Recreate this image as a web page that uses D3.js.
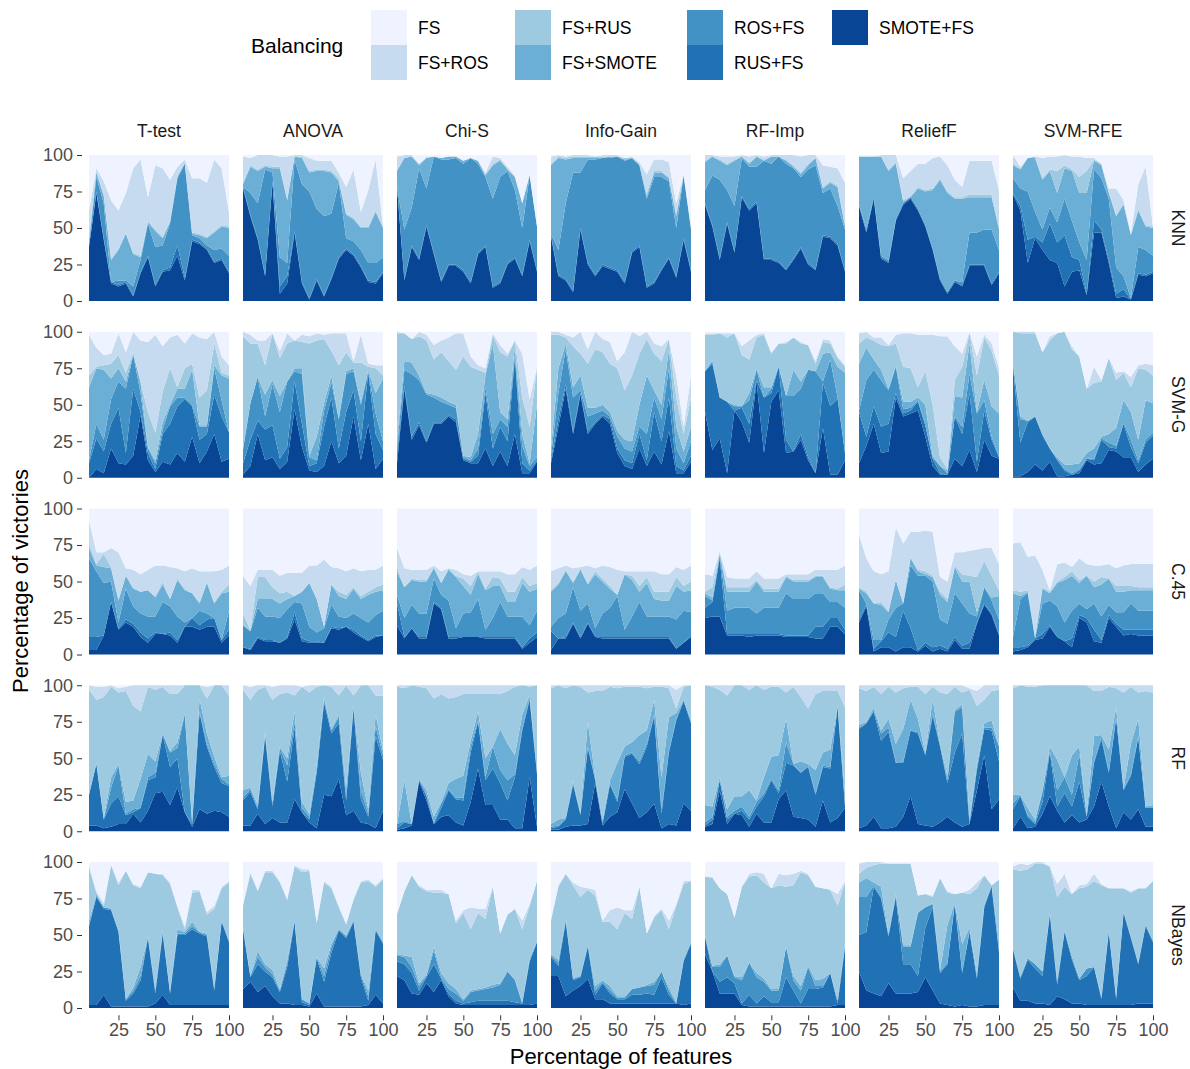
<!DOCTYPE html>
<html>
<head>
<meta charset="utf-8">
<script src="https://cdn.jsdelivr.net/npm/d3@7"></script>
<style>
body { margin: 0; background: #fff; }
text { font-family: "Liberation Sans", Arial, sans-serif; }
</style>
</head>
<body>
<svg id="chart" width="1190" height="1069"></svg>
<script>
// x values (percentage of features)
const pct = [5,10,15,20,25,30,35,40,45,50,55,60,65,70,75,80,85,90,95,100];
const methods = ["T-test","ANOVA","Chi-S","Info-Gain","RF-Imp","ReliefF","SVM-RFE"];
const classifiers = ["KNN","SVM-G","C.45","RF","NBayes"];
const balancing = ["FS","FS+ROS","FS+RUS","FS+SMOTE","ROS+FS","RUS+FS","SMOTE+FS"];
const yTicks = [0,25,50,75,100];
const xTicks = [25,50,75,100];

// every panel: cumulative tops (%) of SMOTE+FS, RUS+FS, ROS+FS, FS+SMOTE, FS+RUS, FS+ROS
// (bottom band first), FS fills what is left up to 100
const knn_ttest = [
  [37,74,42,12,10,12,3,19,30,10,20,21,31,14,41,39,35,26,28,19],
  [37,75,43,13,11,13,4,20,31,11,21,23,38,16,42,40,36,27,29,20],
  [39,85,67,13,14,14,10,28,53,37,38,53,84,94,45,43,38,35,36,31],
  [42,88,72,28,35,46,32,30,54,48,43,54,85,94,46,45,43,47,51,50],
  [43,89,73,29,36,47,33,31,55,49,44,55,86,95,47,46,44,48,52,51],
  [62,91,82,69,62,74,91,97,71,93,91,83,92,97,84,84,81,97,91,61]];
const knn_anova = [
  [77,58,42,17,81,5,12,47,12,1,14,3,15,29,35,31,23,13,12,19],
  [78,59,43,18,82,10,17,48,13,2,15,4,16,30,36,32,24,14,13,20],
  [78,74,67,90,88,30,26,97,80,75,63,58,60,81,43,41,35,26,26,30],
  [80,92,89,92,91,91,69,99,98,88,89,89,88,82,59,56,50,50,61,50],
  [81,93,90,93,92,92,70,99,99,89,90,90,89,84,60,57,51,51,62,51],
  [99,98,100,100,100,99,99,100,100,98,96,96,96,88,78,90,61,76,97,51]];
const knn_chis = [
  [78,14,37,28,51,32,13,24,24,20,12,32,37,9,12,25,29,17,41,20],
  [78,15,38,29,52,33,14,25,25,21,13,33,38,10,13,26,30,18,42,21],
  [78,49,64,91,77,99,97,97,98,94,98,94,85,70,85,89,76,50,86,51],
  [89,98,99,93,98,99,98,99,99,96,98,96,86,93,96,90,85,67,86,51],
  [90,98,99,94,98,99,98,99,99,96,98,96,87,94,97,91,85,67,87,51],
  [99,100,100,94,99,99,98,99,99,96,98,96,88,99,98,92,86,67,87,51]];
const knn_infogain = [
  [44,17,14,6,49,25,17,24,22,20,12,33,37,9,12,21,29,16,42,20],
  [45,18,15,7,50,26,18,25,23,21,13,34,38,10,13,22,30,17,43,21],
  [46,35,67,88,88,97,97,98,98,99,96,98,93,70,85,85,82,50,86,49],
  [93,98,97,98,98,98,98,98,99,99,97,98,93,72,88,88,84,58,86,50],
  [94,99,98,99,99,99,99,99,99,99,98,98,94,74,89,89,85,60,86,50],
  [99,100,99,100,100,100,99,100,100,100,98,99,95,87,97,97,95,67,87,51]];
const knn_rfimp = [
  [66,51,28,53,33,71,62,67,28,28,26,21,28,36,25,21,44,43,38,20],
  [67,52,29,54,34,72,63,68,29,29,27,22,29,37,26,22,45,44,39,21],
  [76,86,83,76,65,98,92,92,96,94,99,94,91,85,90,93,74,77,65,49],
  [95,99,96,93,96,99,94,99,96,99,99,96,92,87,93,98,77,81,78,51],
  [96,99,97,94,97,99,95,99,97,99,99,97,93,88,94,98,78,82,79,52],
  [100,100,99,99,99,100,99,100,99,100,100,100,100,99,100,100,93,92,91,81]];
const knn_relieff = [
  [65,47,70,29,26,55,66,70,62,51,35,14,5,13,10,24,24,24,11,19],
  [66,48,71,30,27,56,67,71,63,52,36,15,6,14,11,25,25,25,12,20],
  [66,50,71,31,28,56,67,71,63,52,36,15,6,14,13,47,47,49,49,35],
  [99,99,99,99,89,94,68,71,77,75,76,83,74,70,70,71,71,71,71,49],
  [99,99,99,99,90,95,69,72,78,76,77,84,75,71,71,73,73,73,73,51],
  [99,99,99,100,100,100,84,89,94,94,98,99,93,83,78,96,96,96,96,76]];
const knn_svmrfe = [
  [73,62,26,43,35,28,26,10,20,21,4,47,47,26,2,3,1,18,17,19],
  [74,65,42,44,40,53,40,45,30,28,5,55,49,28,5,8,1,19,18,20],
  [84,77,75,61,49,64,54,70,55,40,28,90,84,70,23,17,2,37,35,31],
  [93,90,98,98,83,89,74,91,89,74,74,96,93,74,58,66,45,62,51,50],
  [94,91,98,99,84,90,89,93,90,85,89,97,94,75,59,67,46,63,52,51],
  [100,92,98,99,98,99,99,100,99,99,98,98,94,77,77,69,46,80,92,51]];

const svmg_ttest = [
  [0,6,3,20,10,9,15,43,12,4,11,9,17,11,28,10,18,30,11,13],
  [10,27,18,37,48,17,61,45,17,6,30,37,49,54,49,26,30,57,42,31],
  [12,37,26,54,66,61,84,58,20,10,33,49,55,55,50,35,35,75,53,31],
  [62,75,74,68,75,66,85,65,21,12,38,50,61,61,74,36,36,77,70,68],
  [70,76,77,78,84,72,86,66,45,31,59,75,62,75,78,55,60,92,72,70],
  [98,89,84,85,99,86,100,94,93,98,90,96,98,92,99,96,95,100,83,77]];
const svmg_anova = [
  [2,8,30,12,14,6,11,47,21,5,4,8,25,10,15,42,12,37,6,13],
  [10,26,39,33,36,13,21,66,37,8,10,35,55,20,45,60,25,72,30,19],
  [19,51,69,42,64,45,66,73,71,14,12,46,65,40,71,73,50,73,44,25],
  [20,51,69,57,67,56,66,75,75,15,28,51,70,40,73,75,52,74,58,68],
  [97,92,92,77,99,82,92,94,93,92,94,95,87,77,86,79,79,76,75,70],
  [100,98,94,94,99,87,99,94,98,97,99,98,99,99,99,80,98,78,77,77]];
const svmg_chis = [
  [10,61,26,36,24,37,37,42,38,12,10,10,20,8,18,8,30,3,3,11],
  [15,63,28,38,25,38,38,43,40,13,11,15,58,20,35,25,82,10,5,12],
  [20,74,71,67,57,55,52,50,48,14,12,20,62,30,40,35,84,22,8,14],
  [25,80,79,70,58,57,55,52,50,15,14,30,70,92,45,40,90,30,10,50],
  [99,99,95,97,94,81,86,80,74,83,76,74,72,98,86,83,94,55,35,75],
  [100,99,95,100,98,91,94,96,99,99,83,77,75,99,91,85,94,85,54,76]];
const svmg_infogain = [
  [10,35,61,30,57,30,37,42,37,17,8,6,20,8,18,9,32,3,3,11],
  [12,40,64,32,58,32,38,43,40,20,12,10,30,12,45,25,55,8,5,15],
  [15,58,88,55,60,42,44,46,42,28,20,18,35,30,55,40,75,20,10,25],
  [20,75,92,62,70,48,48,50,45,32,26,25,50,70,60,50,88,35,18,35],
  [98,98,96,90,85,78,88,86,78,75,60,70,85,95,85,80,95,55,30,55],
  [100,100,98,96,100,88,100,95,93,80,86,100,97,100,92,90,95,70,35,70]];
const svmg_rfimp = [
  [45,19,27,3,46,38,24,66,17,52,60,17,18,26,12,3,34,2,2,12],
  [73,78,55,52,46,48,37,67,55,58,76,26,18,30,14,3,65,49,54,17],
  [73,80,55,52,49,49,53,74,55,61,76,56,56,61,74,73,66,81,55,17],
  [73,80,55,52,50,49,58,75,62,62,77,56,74,66,74,73,85,86,76,72],
  [98,98,99,96,99,84,81,96,98,85,92,92,96,92,91,78,93,92,82,76],
  [99,99,99,99,99,90,94,98,99,86,92,93,96,93,91,80,95,94,83,77]];
const svmg_relieff = [
  [10,22,37,17,18,55,42,44,46,28,8,2,2,13,8,19,4,26,15,13],
  [45,28,49,35,37,58,44,46,52,36,13,3,2,42,30,58,11,46,26,14],
  [46,67,74,67,60,76,47,48,53,36,14,8,3,42,35,71,44,53,28,15],
  [78,89,81,74,61,77,52,52,55,50,15,8,5,56,55,92,45,67,49,44],
  [92,96,94,91,90,92,76,75,62,73,50,14,6,67,76,99,70,96,87,70],
  [99,100,96,96,91,98,99,99,98,98,98,97,97,90,85,100,83,98,92,75]];
const svmg_svmrfe = [
  [1,1,4,9,5,11,1,1,2,3,12,9,10,19,18,14,14,4,9,13],
  [76,24,38,42,29,20,12,5,2,5,13,12,26,21,20,37,21,10,24,29],
  [78,40,39,42,30,20,13,6,3,6,13,13,27,24,22,38,26,12,26,31],
  [78,42,39,42,30,20,14,9,9,10,17,20,28,30,34,53,45,26,53,51],
  [100,99,99,99,86,94,99,100,88,83,61,65,66,82,67,72,62,75,74,70],
  [100,100,100,100,86,97,99,100,90,83,61,76,67,82,72,73,69,77,78,77]];

const c45_ttest = [
  [3,3,13,36,17,22,19,12,8,14,14,13,8,19,19,17,19,19,8,13],
  [12,12,13,36,18,24,21,15,11,15,14,15,10,19,25,20,24,25,10,17],
  [66,57,49,50,22,45,33,28,26,26,36,33,26,22,21,30,28,24,10,30],
  [73,61,60,59,37,54,45,43,44,39,48,38,51,44,42,35,49,35,42,43],
  [76,62,69,60,38,54,46,43,44,40,50,38,52,45,42,36,50,36,43,48],
  [92,70,70,73,70,59,58,55,58,61,61,60,59,57,59,57,57,57,58,61]];
const c45_anova = [
  [5,3,11,9,9,8,11,24,9,8,8,8,18,17,19,15,12,9,12,13],
  [5,4,12,10,10,8,12,29,11,9,9,8,19,18,19,17,13,10,13,13],
  [20,16,32,26,26,25,31,36,35,19,15,18,34,26,25,28,25,22,27,30],
  [20,16,38,38,38,35,38,40,43,49,38,19,48,40,38,45,38,41,43,44],
  [28,17,53,53,46,42,43,40,43,49,38,19,48,43,41,46,40,43,46,48],
  [54,47,58,58,58,54,56,56,56,61,61,65,60,59,57,59,57,58,58,61]];
const c45_chis = [
  [20,11,18,11,11,35,31,11,11,12,12,12,11,11,11,11,11,4,8,12],
  [35,12,18,12,12,36,32,12,12,12,12,12,12,12,12,12,12,5,11,15],
  [41,25,34,28,28,52,41,37,18,28,29,38,17,25,36,26,26,26,20,30],
  [57,46,51,50,50,59,49,58,53,47,41,55,44,47,47,36,36,49,43,45],
  [60,46,52,51,51,60,49,59,54,52,47,57,45,53,52,43,43,53,47,49],
  [73,59,58,58,58,61,57,59,58,55,54,57,57,57,57,55,55,60,58,61]];
const c45_infogain = [
  [3,11,11,21,11,21,12,11,11,11,11,11,11,11,11,11,11,4,8,12],
  [16,11,12,22,12,22,12,12,12,12,12,12,12,12,12,12,12,4,8,13],
  [19,25,28,46,30,35,18,28,32,40,17,26,36,26,26,26,26,24,30,29],
  [43,48,57,49,58,48,55,50,45,41,55,51,43,49,38,37,37,47,43,44],
  [44,49,58,50,59,49,57,52,47,41,55,54,47,53,43,43,43,53,47,50],
  [57,59,61,59,60,61,59,61,60,58,57,57,57,57,57,55,55,60,58,61]];
const c45_rfimp = [
  [25,26,26,13,13,13,12,13,13,13,13,12,12,12,12,11,11,19,19,14],
  [32,36,66,14,14,14,14,14,14,14,14,13,13,13,13,19,19,25,25,17],
  [40,37,68,30,32,32,32,28,32,32,32,42,38,38,38,42,42,36,36,32],
  [42,39,69,43,43,43,43,50,43,43,43,53,50,50,50,53,53,45,44,44],
  [43,46,70,46,46,46,46,51,45,45,45,54,51,51,51,54,54,46,45,48],
  [55,54,71,53,52,52,52,57,52,52,52,55,55,55,55,58,58,58,58,61]];
const c45_relieff = [
  [22,33,2,5,5,2,5,5,2,6,2,4,2,10,4,4,21,34,27,13],
  [24,34,4,9,15,12,30,18,3,8,5,6,4,12,6,8,22,35,28,14],
  [44,35,10,10,24,32,35,61,54,54,50,24,21,42,35,28,26,46,37,24],
  [45,42,35,34,29,51,35,66,57,55,53,41,36,60,50,50,29,46,39,40],
  [46,43,35,36,30,51,35,67,58,57,54,43,38,61,55,54,53,64,54,44],
  [82,66,57,55,57,87,76,84,84,85,84,53,50,70,70,71,72,73,73,62]];
const c45_svmrfe = [
  [2,3,5,10,11,19,12,9,5,25,22,9,8,25,19,13,14,13,13,13],
  [5,5,6,11,14,20,12,9,11,27,25,17,10,27,21,17,17,17,17,17],
  [12,38,42,11,35,37,33,22,30,35,31,35,26,34,29,29,35,30,30,30],
  [42,40,43,11,45,42,49,51,54,49,54,46,48,52,43,43,44,44,44,44],
  [44,43,44,13,46,43,50,53,57,51,54,50,53,52,47,47,47,46,46,46],
  [76,77,67,68,58,44,62,63,60,66,62,61,61,62,59,61,62,62,62,62]];

const rf_ttest = [
  [4,4,2,3,5,5,12,6,14,26,27,18,30,13,3,15,12,14,13,10],
  [25,46,8,19,24,11,13,16,35,37,66,44,50,13,5,81,58,44,33,31],
  [25,46,8,30,45,12,15,16,37,40,67,54,57,80,5,82,60,46,36,32],
  [25,47,9,37,46,20,21,36,53,48,67,55,61,81,6,91,67,51,37,38],
  [97,90,92,99,95,96,86,82,99,97,99,94,94,100,100,100,91,100,100,93],
  [100,99,99,100,98,99,100,100,100,100,100,100,100,100,100,100,99,100,100,100]];
const rf_anova = [
  [4,4,12,5,9,6,6,22,13,6,2,25,24,36,11,14,6,5,2,14],
  [21,27,15,65,17,55,34,71,13,8,40,88,67,74,21,84,22,10,65,49],
  [23,29,16,66,19,57,45,75,16,10,42,90,69,78,25,85,28,12,72,52],
  [28,30,18,68,20,58,50,82,20,12,45,92,70,80,30,86,40,15,80,55],
  [97,90,97,99,90,94,95,93,99,95,99,100,99,93,100,93,100,100,93,93],
  [100,99,100,100,99,100,100,100,99,100,100,100,100,100,100,100,100,100,100,100]];
const rf_chis = [
  [1,2,4,34,21,5,10,11,6,4,20,43,18,18,8,8,2,2,37,3],
  [2,6,5,35,24,5,16,28,22,21,54,75,35,43,33,21,37,69,90,39],
  [5,7,5,36,25,6,19,29,23,23,58,76,37,58,42,35,39,71,91,40],
  [5,35,5,36,28,10,20,33,36,38,62,82,50,58,70,60,52,80,93,42],
  [99,98,100,99,98,91,94,91,92,94,94,94,94,94,94,96,99,100,99,100],
  [100,100,100,100,100,100,100,100,100,100,100,100,100,100,100,100,100,100,100,100]];
const rf_infogain = [
  [1,1,3,4,4,5,33,4,10,13,29,19,9,13,19,2,5,4,19,14],
  [2,3,8,32,11,57,35,5,32,20,51,53,46,58,79,12,54,76,89,74],
  [3,4,9,33,12,58,36,6,33,22,52,54,48,60,80,15,55,77,90,75],
  [5,8,9,35,12,75,37,8,35,47,58,61,66,69,90,37,78,81,90,76],
  [98,100,98,100,99,95,96,96,99,98,99,99,99,98,99,99,98,84,99,100],
  [100,100,100,100,100,100,100,100,100,100,100,100,100,100,100,100,100,97,100,100]];
const rf_rfimp = [
  [3,5,28,5,12,11,3,12,6,6,22,28,10,9,8,3,21,6,9,16],
  [4,8,35,8,12,14,8,17,24,35,26,47,45,40,44,25,44,43,85,17],
  [6,10,35,10,14,17,10,20,26,36,28,61,46,40,45,26,45,44,86,18],
  [18,17,37,15,24,24,28,21,37,51,52,77,46,48,46,42,54,56,86,25],
  [100,99,97,93,100,100,97,100,97,99,99,95,99,92,84,94,96,96,96,85],
  [100,100,100,100,100,100,100,100,100,100,100,100,100,100,100,100,100,100,100,100]];
const rf_relieff = [
  [2,4,10,2,2,3,10,24,5,4,3,6,10,6,3,5,28,52,15,22],
  [70,74,82,62,68,47,47,69,67,52,79,58,33,54,67,5,42,70,69,48],
  [71,74,83,67,71,47,48,69,68,53,81,59,35,82,85,7,44,71,71,58],
  [73,75,85,69,77,60,70,90,77,54,90,60,38,83,87,8,45,74,76,58],
  [98,96,99,94,99,95,98,99,99,94,99,95,94,99,95,97,86,90,96,97],
  [100,100,100,100,100,100,100,100,100,100,100,100,100,100,100,98,96,100,100,100]];
const rf_svmrfe = [
  [2,10,2,3,12,24,14,6,11,6,8,17,34,17,2,13,8,15,3,3],
  [15,24,10,5,20,54,17,26,17,34,10,47,63,40,77,28,38,64,16,16],
  [19,25,11,6,27,55,28,37,25,53,10,48,65,41,78,29,39,65,16,16],
  [25,25,16,8,28,58,49,37,52,58,12,65,66,56,85,29,60,77,17,18],
  [98,100,99,99,100,100,100,100,100,100,100,96,96,99,98,95,99,95,96,95],
  [100,100,100,100,100,100,100,100,100,100,100,100,100,100,100,100,100,100,100,100]];

const nb_ttest = [
  [2,2,9,1,1,1,1,1,1,3,9,2,2,2,2,2,2,2,2,2],
  [56,76,68,67,52,5,10,19,48,10,51,10,50,50,54,51,49,12,59,45],
  [57,77,69,68,53,6,12,22,49,12,52,11,51,51,56,52,50,13,60,46],
  [60,78,69,68,54,6,14,28,49,13,53,11,54,52,59,52,51,14,60,46],
  [96,79,70,98,84,94,84,82,93,92,91,85,69,54,79,80,64,68,82,86],
  [98,80,72,98,86,94,85,83,93,92,92,86,70,56,81,81,66,70,83,87]];
const nb_anova = [
  [13,18,11,15,8,3,3,2,2,1,10,1,1,1,1,1,1,2,9,3],
  [54,21,30,25,21,11,28,59,4,2,34,18,38,53,48,59,21,5,53,44],
  [55,22,35,28,23,12,31,60,6,3,35,22,42,54,49,60,23,8,54,45],
  [55,22,39,30,26,13,33,60,6,3,35,27,44,54,50,60,23,12,54,45],
  [70,92,80,93,93,86,74,97,93,94,58,86,82,69,57,74,86,87,83,88],
  [71,93,81,94,94,87,75,98,95,95,59,87,83,70,58,75,87,88,84,89]];
const nb_chis = [
  [22,19,10,9,17,11,19,8,3,2,2,2,2,2,2,2,2,2,2,3],
  [32,30,24,12,21,30,20,10,5,3,4,5,5,5,5,5,4,3,32,45],
  [36,35,28,15,22,39,21,13,10,5,11,12,13,14,16,25,19,3,32,45],
  [37,36,35,17,23,42,24,17,13,6,12,13,14,16,17,25,20,4,34,46],
  [64,80,91,83,80,79,79,78,58,65,54,65,61,83,51,64,68,54,70,87],
  [65,80,91,84,81,81,81,78,60,67,69,68,68,83,51,64,68,60,71,87]];
const nb_infogain = [
  [22,22,8,12,15,20,6,6,3,3,3,3,3,3,3,3,3,3,2,3],
  [35,29,59,19,21,42,9,17,10,6,6,9,9,10,9,21,9,3,32,44],
  [36,31,60,20,22,43,12,18,12,7,7,13,14,15,16,25,12,3,33,45],
  [37,33,61,20,22,43,15,19,15,8,8,13,14,16,18,25,14,4,33,45],
  [60,83,92,84,76,81,77,59,59,54,65,61,83,51,62,67,54,70,85,87],
  [61,84,92,86,83,82,81,60,67,69,67,67,83,51,63,68,60,71,87,87]];
const nb_rfimp = [
  [37,25,10,10,10,2,1,1,1,1,1,1,1,1,1,1,1,1,2,2],
  [49,25,18,21,17,3,9,3,8,4,4,21,12,3,13,13,14,24,3,42],
  [49,28,28,36,21,19,31,21,18,12,12,42,19,12,28,15,15,24,5,43],
  [50,29,30,36,22,21,31,24,20,13,13,42,22,15,29,19,20,24,6,44],
  [90,89,82,78,62,83,90,91,86,82,84,83,84,93,91,83,82,81,70,86],
  [90,90,82,78,62,83,92,93,92,82,92,91,92,94,92,83,82,81,78,87]];
const nb_relieff = [
  [25,12,10,8,17,10,10,10,11,21,12,3,2,1,2,1,1,2,2,2],
  [50,52,83,75,49,76,30,30,22,55,69,24,30,71,24,52,20,69,83,38],
  [76,76,84,76,50,77,42,42,65,69,71,25,31,72,25,53,21,70,84,40],
  [86,89,86,83,51,78,43,43,66,69,72,26,57,72,44,55,24,71,84,45],
  [92,96,98,99,99,99,99,99,77,78,76,89,79,78,79,78,82,91,83,88],
  [99,100,100,100,99,99,99,99,77,78,77,89,80,78,79,81,86,91,83,88]];
const nb_svmrfe = [
  [14,5,5,3,3,2,8,6,3,3,2,2,2,2,2,2,2,3,3,3],
  [40,20,33,27,22,64,16,52,33,19,22,28,6,52,6,65,48,30,56,45],
  [41,21,34,30,25,65,18,53,35,20,27,28,7,53,7,66,49,31,57,46],
  [41,22,34,30,25,65,19,53,35,20,27,28,8,53,8,66,49,31,57,46],
  [95,94,95,99,99,97,76,83,78,82,83,87,84,82,82,82,79,82,82,87],
  [97,99,98,100,100,97,85,92,78,84,85,92,85,82,82,82,80,82,82,87]];

const panelData = {
  "KNN":    [knn_ttest, knn_anova, knn_chis, knn_infogain, knn_rfimp, knn_relieff, knn_svmrfe],
  "SVM-G":  [svmg_ttest, svmg_anova, svmg_chis, svmg_infogain, svmg_rfimp, svmg_relieff, svmg_svmrfe],
  "C.45":   [c45_ttest, c45_anova, c45_chis, c45_infogain, c45_rfimp, c45_relieff, c45_svmrfe],
  "RF":     [rf_ttest, rf_anova, rf_chis, rf_infogain, rf_rfimp, rf_relieff, rf_svmrfe],
  "NBayes": [nb_ttest, nb_anova, nb_chis, nb_infogain, nb_rfimp, nb_relieff, nb_svmrfe]
};

var svg = d3.select("#chart");

// facet grid (data area of each panel)
const colX = d3.scaleBand().domain(methods).range([89, 1153]).paddingInner(14 / 154);
const rowY = d3.scaleBand().domain(classifiers).range([155, 1008]).paddingInner(30.75 / 176.75);

const x = d3.scaleLinear().domain([5, 100]).range([0, colX.bandwidth()]);
const y = d3.scaleLinear().domain([0, 100]).range([rowY.bandwidth(), 0]);

// panels are 5% wider/taller than the data, the axes sit on the panel edge
const padX = 0.05 * colX.bandwidth();
const padY = 0.05 * rowY.bandwidth();

var colorscale = d3.scaleOrdinal()
    .domain(balancing)
    .range(["#eff3ff", "#c6dbef", "#9ecae1", "#6baed6", "#4292c6", "#2171b5", "#084594"]);

// bottom band first, FS on top
const stackKeys = balancing.slice().reverse();
const stack = d3.stack().keys(stackKeys);

const area = d3.area()
    .x(d => x(d.data.pct))
    .y0(d => y(d[0]))
    .y1(d => y(d[1]));

// turn cumulative tops into per-series shares
function toRows(tops) {
  return pct.map((p, i) => {
    const row = {pct: p};
    let prev = 0;
    stackKeys.slice(0, 6).forEach((k, j) => {
      const top = Math.min(100, Math.max(prev, tops[j][i]));
      row[k] = top - prev;
      prev = top;
    });
    row["FS"] = 100 - prev;
    return row;
  });
}

classifiers.forEach(c => {
  methods.forEach((m, j) => {
    const g = svg.append("g")
        .attr("transform", `translate(${colX(m)},${rowY(c)})`);
    g.selectAll("path")
        .data(stack(toRows(panelData[c][j])))
        .join("path")
        .attr("fill", d => colorscale(d.key))
        .attr("d", area);
  });
});

// strip labels
svg.selectAll(".strip-top")
    .data(methods)
    .join("text")
    .attr("class", "strip-top")
    .attr("x", d => colX(d) + colX.bandwidth() / 2)
    .attr("y", 131)
    .attr("dy", "0.35em")
    .style("text-anchor", "middle")
    .style("font-size", "17.5px")
    .attr("fill", "#1a1a1a")
    .text(d => d);

svg.selectAll(".strip-right")
    .data(classifiers)
    .join("text")
    .attr("class", "strip-right")
    .attr("transform", d => `translate(1178,${rowY(d) + rowY.bandwidth() / 2}) rotate(90)`)
    .attr("dy", "0.35em")
    .style("text-anchor", "middle")
    .style("font-size", "17.5px")
    .attr("fill", "#1a1a1a")
    .text(d => d);

// axes
classifiers.forEach(c => {
  const ax = svg.append("g")
      .attr("transform", `translate(${colX(methods[0]) - padX},${rowY(c)})`)
      .call(d3.axisLeft(y).tickValues(yTicks).tickSize(5).tickPadding(4));
  ax.select(".domain").remove();
});

methods.forEach(m => {
  const ax = svg.append("g")
      .attr("transform", `translate(${colX(m)},${rowY(classifiers[4]) + rowY.bandwidth() + padY})`)
      .call(d3.axisBottom(x).tickValues(xTicks).tickSize(5).tickPadding(3));
  ax.select(".domain").remove();
});

svg.selectAll(".tick line").attr("stroke", "#333333");
svg.selectAll(".tick text")
    .attr("fill", "#4d4d4d")
    .style("font-size", "18px")
    .style("font-family", "'Liberation Sans', Arial, sans-serif");

// axis titles
svg.append("text")
    .attr("x", 621)
    .attr("y", 1056)
    .attr("dy", "0.35em")
    .style("text-anchor", "middle")
    .style("font-size", "22px")
    .text("Percentage of features");

svg.append("text")
    .attr("transform", "translate(20,581) rotate(-90)")
    .attr("dy", "0.35em")
    .style("text-anchor", "middle")
    .style("font-size", "22px")
    .text("Percentage of victories");

// legend
svg.append("text")
    .attr("x", 251)
    .attr("y", 46)
    .attr("dy", "0.35em")
    .style("font-size", "21px")
    .text("Balancing");

const legendX = [371, 515, 687, 832];
const legend = svg.selectAll(".legend-item")
    .data(balancing)
    .join("g")
    .attr("class", "legend-item")
    .attr("transform", (d, i) => `translate(${legendX[Math.floor(i / 2)]},${10 + (i % 2) * 35})`);

legend.append("rect")
    .attr("width", 36)
    .attr("height", 35)
    .attr("fill", d => colorscale(d));

legend.append("text")
    .attr("x", 47)
    .attr("y", 17.5)
    .attr("dy", "0.35em")
    .style("font-size", "17.5px")
    .text(d => d);
</script>
</body>
</html>
